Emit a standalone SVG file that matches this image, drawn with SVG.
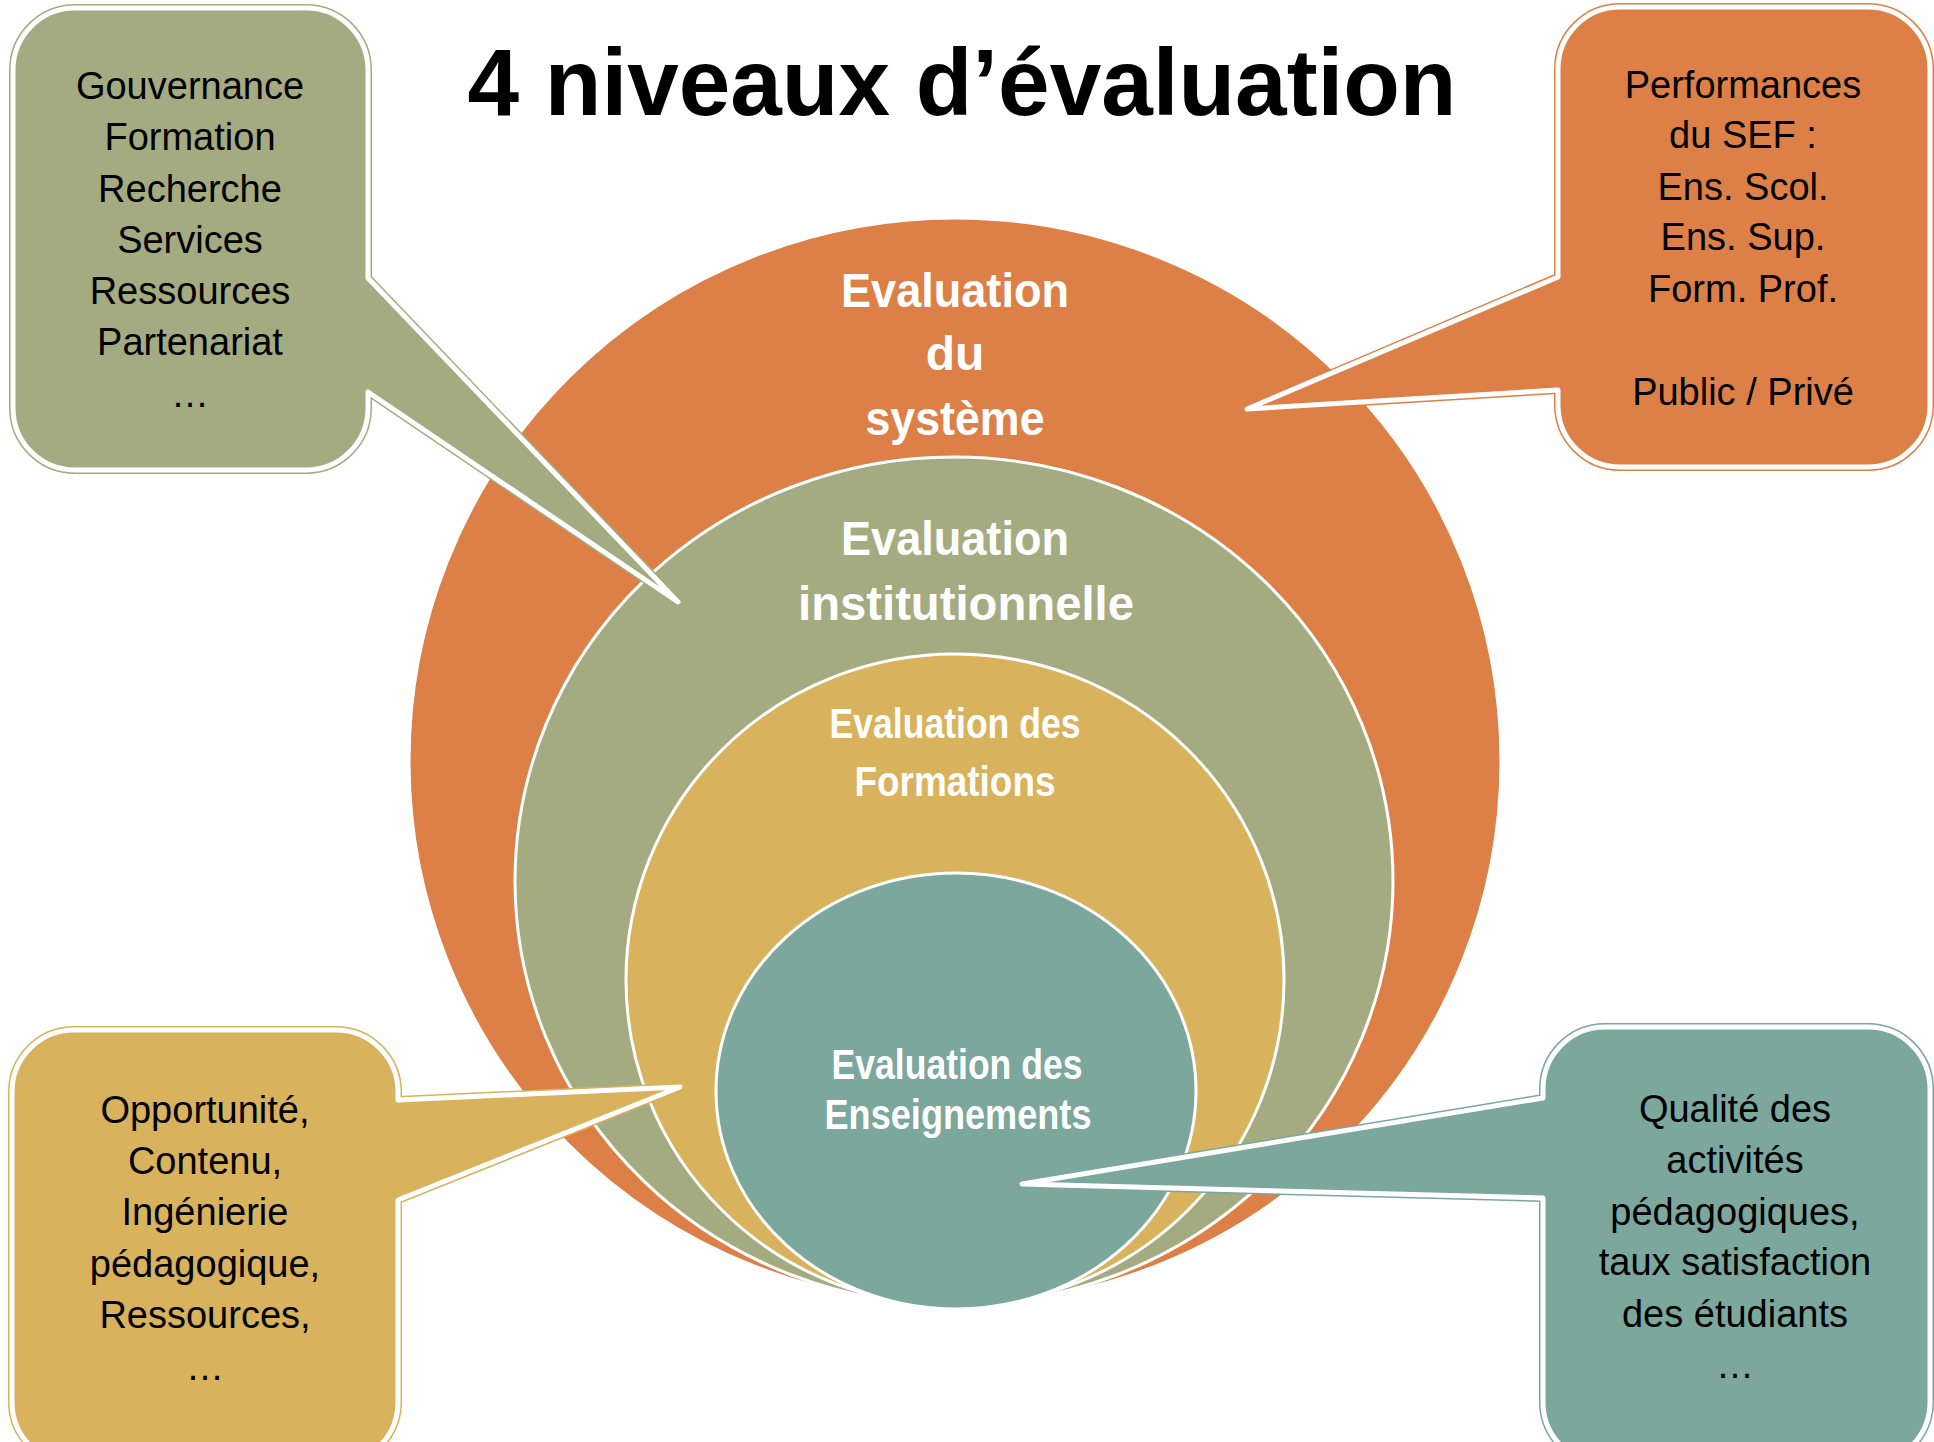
<svg xmlns="http://www.w3.org/2000/svg" width="1934" height="1442" viewBox="0 0 1934 1442">
<defs>
<style>
.title{font-family:"Liberation Sans",Arial,sans-serif;font-weight:bold;font-size:94px;fill:#000;text-anchor:middle}
.box{font-family:"Liberation Sans",Arial,sans-serif;font-size:38px;fill:#000;text-anchor:middle}
.lvl{font-family:"Liberation Sans",Arial,sans-serif;font-weight:bold;fill:#fff;text-anchor:middle}
.ring{stroke:#fff;stroke-width:3}
.outer{fill:none;stroke-width:8;stroke-linejoin:round}
.inner{stroke:#fff;stroke-width:5;stroke-linejoin:round}
</style>
</defs>
<rect width="1934" height="1442" fill="#fff"/>
<text class="title" x="962" y="115" textLength="989" lengthAdjust="spacingAndGlyphs">4 niveaux d’évaluation</text>

<g id="level-systeme">
<ellipse class="ring" cx="955" cy="761" rx="546" ry="543" fill="#DD8047"/>
<text class="lvl" font-size="48" x="955" y="307" textLength="228" lengthAdjust="spacingAndGlyphs">Evaluation</text>
<text class="lvl" font-size="48" x="955" y="370">du</text>
<text class="lvl" font-size="48" x="955" y="435" textLength="179" lengthAdjust="spacingAndGlyphs">système</text>
</g>
<g id="level-institutionnelle">
<ellipse class="ring" cx="954" cy="881" rx="439" ry="424" fill="#A5AB81"/>
<text class="lvl" font-size="48" x="955" y="555" textLength="228" lengthAdjust="spacingAndGlyphs">Evaluation</text>
<text class="lvl" font-size="48" x="966" y="620" textLength="336" lengthAdjust="spacingAndGlyphs">institutionnelle</text>
</g>
<g id="level-formations">
<ellipse class="ring" cx="955" cy="980" rx="329" ry="326" fill="#D8B25C"/>
<text class="lvl" font-size="43" x="955" y="738" textLength="251" lengthAdjust="spacingAndGlyphs">Evaluation des</text>
<text class="lvl" font-size="43" x="955" y="796" textLength="201" lengthAdjust="spacingAndGlyphs">Formations</text>
</g>
<g id="level-enseignements">
<ellipse class="ring" cx="956" cy="1091" rx="240" ry="218" fill="#7BA79D"/>
<text class="lvl" font-size="43" x="957" y="1079" textLength="251" lengthAdjust="spacingAndGlyphs">Evaluation des</text>
<text class="lvl" font-size="43" x="958" y="1129" textLength="267" lengthAdjust="spacingAndGlyphs">Enseignements</text>
</g>

<g id="callout-institution">
<path class="outer" stroke="#A5AB81" d="M75,8 H306 A62 62 0 0 1 368,70 V278 L678,602 L368,392 V408 A62 62 0 0 1 306,470 H75 A62 62 0 0 1 13,408 V70 A62 62 0 0 1 75,8 Z"/>
<path class="inner" fill="#A5AB81" d="M75,8 H306 A62 62 0 0 1 368,70 V278 L678,602 L368,392 V408 A62 62 0 0 1 306,470 H75 A62 62 0 0 1 13,408 V70 A62 62 0 0 1 75,8 Z"/>
<text class="box" x="190" y="99">Gouvernance</text>
<text class="box" x="190" y="150">Formation</text>
<text class="box" x="190" y="202">Recherche</text>
<text class="box" x="190" y="253">Services</text>
<text class="box" x="190" y="304">Ressources</text>
<text class="box" x="190" y="355">Partenariat</text>
<text class="box" x="190" y="407">…</text>
</g>

<g id="callout-systeme">
<path class="outer" stroke="#DD8047" d="M1620,7 H1868 A62 62 0 0 1 1930,69 V405 A62 62 0 0 1 1868,467 H1620 A62 62 0 0 1 1558,405 V390 L1247,409 L1558,277 V69 A62 62 0 0 1 1620,7 Z"/>
<path class="inner" fill="#DD8047" d="M1620,7 H1868 A62 62 0 0 1 1930,69 V405 A62 62 0 0 1 1868,467 H1620 A62 62 0 0 1 1558,405 V390 L1247,409 L1558,277 V69 A62 62 0 0 1 1620,7 Z"/>
<text class="box" x="1743" y="98">Performances</text>
<text class="box" x="1743" y="148">du SEF :</text>
<text class="box" x="1743" y="200">Ens. Scol.</text>
<text class="box" x="1743" y="250">Ens. Sup.</text>
<text class="box" x="1743" y="302">Form. Prof.</text>
<text class="box" x="1743" y="405">Public / Privé</text>
</g>

<g id="callout-formations">
<path class="outer" stroke="#D8B25C" d="M74,1030 H336 A62 62 0 0 1 398,1092 V1100 L680,1087 L398,1200 V1402 A62 62 0 0 1 336,1464 H74 A62 62 0 0 1 12,1402 V1092 A62 62 0 0 1 74,1030 Z"/>
<path class="inner" fill="#D8B25C" d="M74,1030 H336 A62 62 0 0 1 398,1092 V1100 L680,1087 L398,1200 V1402 A62 62 0 0 1 336,1464 H74 A62 62 0 0 1 12,1402 V1092 A62 62 0 0 1 74,1030 Z"/>
<text class="box" x="205" y="1123">Opportunité,</text>
<text class="box" x="205" y="1174">Contenu,</text>
<text class="box" x="205" y="1225">Ingénierie</text>
<text class="box" x="205" y="1277">pédagogique,</text>
<text class="box" x="205" y="1328">Ressources,</text>
<text class="box" x="205" y="1380">…</text>
</g>

<g id="callout-enseignements">
<path class="outer" stroke="#7BA79D" d="M1605,1027 H1868 A62 62 0 0 1 1930,1089 V1402 A62 62 0 0 1 1868,1464 H1605 A62 62 0 0 1 1543,1402 V1198 L1022,1184 L1543,1098 V1089 A62 62 0 0 1 1605,1027 Z"/>
<path class="inner" fill="#7BA79D" d="M1605,1027 H1868 A62 62 0 0 1 1930,1089 V1402 A62 62 0 0 1 1868,1464 H1605 A62 62 0 0 1 1543,1402 V1198 L1022,1184 L1543,1098 V1089 A62 62 0 0 1 1605,1027 Z"/>
<text class="box" x="1735" y="1122">Qualité des</text>
<text class="box" x="1735" y="1173">activités</text>
<text class="box" x="1735" y="1225">pédagogiques,</text>
<text class="box" x="1735" y="1275">taux satisfaction</text>
<text class="box" x="1735" y="1327">des étudiants</text>
<text class="box" x="1735" y="1378">…</text>
</g>
</svg>
